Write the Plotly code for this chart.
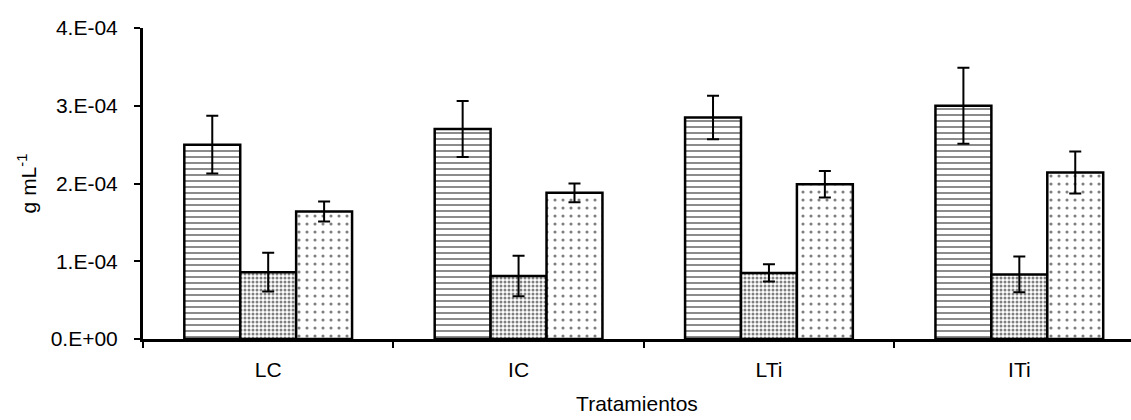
import plotly.graph_objects as go

categories = ["LC", "IC", "LTi", "ITi"]
s1_vals = [2.50e-4, 2.70e-4, 2.85e-4, 3.00e-4]
s1_err = [0.37e-4, 0.36e-4, 0.28e-4, 0.49e-4]
s2_vals = [0.86e-4, 0.81e-4, 0.85e-4, 0.83e-4]
s2_err = [0.25e-4, 0.26e-4, 0.11e-4, 0.23e-4]
s3_vals = [1.64e-4, 1.88e-4, 1.99e-4, 2.14e-4]
s3_err = [0.13e-4, 0.12e-4, 0.17e-4, 0.27e-4]

y_tickvals = [0, 1e-4, 2e-4, 3e-4, 4e-4]
y_ticktext = ["0.E+00", "1.E-04", "2.E-04", "3.E-04", "4.E-04"]

FONT = "Liberation Sans, Arial, sans-serif"

def bar(vals, errs, shape, size, solidity):
    return go.Bar(
        x=categories, y=vals,
        marker=dict(
            color="white",
            line=dict(color="black", width=2.5),
            pattern=dict(shape=shape, size=size, solidity=solidity,
                         fgcolor="black", bgcolor="white", fillmode="overlay"),
        ),
        error_y=dict(type="data", array=errs, visible=True,
                     color="black", thickness=2, width=6),
        showlegend=False,
    )

fig = go.Figure()
fig.add_trace(bar(s1_vals, s1_err, "-", 6, 0.3))
fig.add_trace(bar(s2_vals, s2_err, ".", 4, 0.45))
fig.add_trace(bar(s3_vals, s3_err, ".", 8, 0.12))

fig.update_layout(
    width=1131, height=420,
    margin=dict(l=143, r=0, t=28, b=81),
    paper_bgcolor="white", plot_bgcolor="white",
    barmode="group", bargap=0.33, bargroupgap=0,
    font=dict(family=FONT, size=21, color="black"),
)
fig.update_xaxes(
    range=[-0.5, 3.446], automargin=False,
    showline=True, linecolor="black", linewidth=3,
    ticks="outside", tickson="boundaries", ticklen=6, tickwidth=2, tickcolor="black",
    showgrid=False, zeroline=False,
    tickfont=dict(size=21), ticklabelstandoff=10,
    title=dict(text="Tratamientos", font=dict(size=21), standoff=17),
)
fig.update_yaxes(
    range=[0, 4e-4], automargin=False,
    tickmode="array", tickvals=y_tickvals, ticktext=y_ticktext,
    showline=True, linecolor="black", linewidth=3,
    ticks="outside", ticklen=6, tickwidth=2, tickcolor="black",
    showgrid=False, zeroline=False,
    tickfont=dict(size=21), ticklabelstandoff=12,
    title=dict(text="g mL<sup>-1</sup>", font=dict(size=21), standoff=9),
)

fig.write_html("out.html")
